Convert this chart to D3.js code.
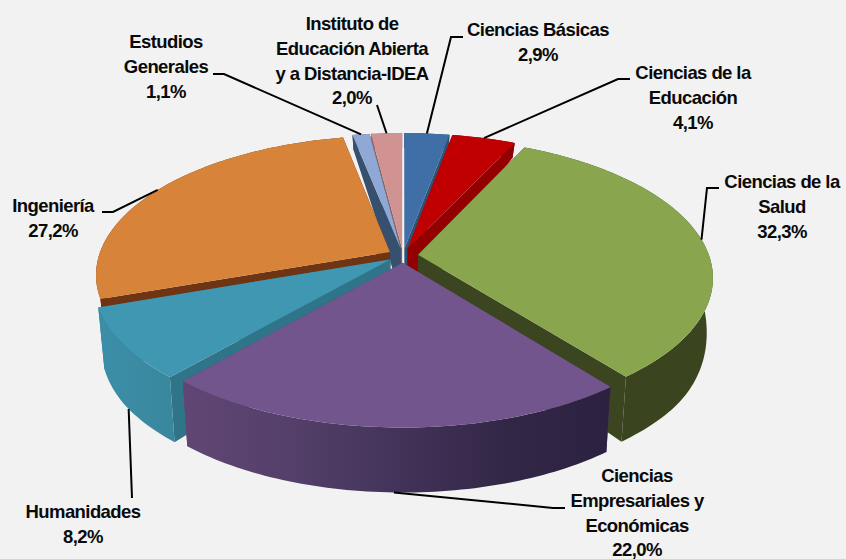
<!DOCTYPE html>
<html><head><meta charset="utf-8">
<script src="https://cdn.jsdelivr.net/npm/d3@7/dist/d3.min.js"></script>
<style>html,body{margin:0;padding:0;background:#f2f2f2}svg{display:block}
text{font-family:"Liberation Sans",Arial,sans-serif;font-weight:700;font-size:18.5px;letter-spacing:-.58px;fill:#0a0a0a;text-anchor:middle}</style>
</head><body><svg id="c" width="846" height="559"></svg>
<script>
// --- data
const categories = ["Ciencias Básicas","Ciencias de la Educación","Ciencias de la Salud","Ciencias Empresariales y Económicas","Humanidades","Ingeniería","Estudios Generales","Instituto de Educación Abierta y a Distancia-IDEA"];
const values = [2.9,4.1,32.3,22.0,8.2,27.2,1.1,2.0];
const labelTexts = ["2,9%","4,1%","32,3%","22,0%","8,2%","27,2%","1,1%","2,0%"];
const labelLines = [["Ciencias Básicas"],["Ciencias de la","Educación"],["Ciencias de la","Salud"],["Ciencias","Empresariales y","Económicas"],["Humanidades"],["Ingeniería"],["Estudios","Generales"],["Instituto de","Educación Abierta","y a Distancia-IDEA"]];
// --- style & layout
const topColors  = ["#3f6fa6","#c00000","#89a54e","#72558c","#3f97b2","#d8833a","#8fa8d5","#d19391"];
const wallColors = ["#2f5277","#8f0000","#3a4520","#4a3660","#3a8ca3","#6e3413","#36506e","#8d5f5e"];
const edgeColors = ["#2f5277","#940000","#3b4520","#5f4372","#2f7488","#6e3413","#36506e","#8d5f5e"];
const drawOrder = [7,6,0,1,5,2,4,3];
const labelX = [538,693,782,637,83,53,166,352];
const labelY0 = [36,79,188,482,518,212,48,30];
const lineStep = 24.8;
const leaderVia = [[[451,37],[463,37]],[[618,79],[630,79]],[[707,188],[719,188]],[[553,508],[565,508]],[[132,498]],[[113,212],[102,212]],[[224,74],[213,74]],[[377,105]]];
const leaderOnBottom = [false,false,false,true,true,false,false,false];
const cx=403, cy=255.5, A=291, B=136, persp=0.16, explode=0.052;

const svg=d3.select("#c");
const arcs=d3.pie().value(d=>d).sort(null).startAngle(0).endAngle(2*Math.PI)(values);

const depth=d3.scaleLinear().domain([-0.6,0.9]).range([1,0]).clamp(true);
const wallH=Z=>{const t=depth(Z);return 15+50*t*t*(3-2*t);};
const topPt=(X,Z)=>{const k=1+persp*Z;return [cx+A*X/k,cy-B*Z/k];};
const botPt=(X,Z)=>{const k=1+persp*Z;return [cx+0.98*A*X/k,cy-B*Z/k+wallH(Z)];};
const line=d3.line();

const defs=svg.append("defs");
const purpleGrad=defs.append("linearGradient").attr("id","gPurple");
[[0,"#614674"],[0.25,"#54406a"],[0.5,"#43335a"],[0.75,"#332746"],[1,"#2c2140"]].forEach(s=>purpleGrad.append("stop").attr("offset",s[0]).attr("stop-color",s[1]));
const tealGrad=defs.append("linearGradient").attr("id","gTeal");
[[0,"#3c8ea8"],[1,"#39879d"]].forEach(s=>tealGrad.append("stop").attr("offset",s[0]).attr("stop-color",s[1]));

function rim(d,t){const m=(d.startAngle+d.endAngle)/2;
  return [explode*Math.sin(m)+Math.sin(t),explode*Math.cos(m)+Math.cos(t)];}
function apex(d){const m=(d.startAngle+d.endAngle)/2;return [explode*Math.sin(m),explode*Math.cos(m)];}
function rimPts(d){const n=Math.max(6,Math.ceil((d.endAngle-d.startAngle)/0.02));
  return d3.range(n+1).map(i=>rim(d,d.startAngle+(d.endAngle-d.startAngle)*i/n));}

drawOrder.forEach(i=>{
  const d=arcs[i], g=svg.append("g"), a=apex(d), pts=rimPts(d);
  const first=pts[0], last=pts[pts.length-1];
  const edge=[[a,first],[a,last]];
  edge.forEach(e=>{
    const q=[topPt(...e[0]),topPt(...e[1]),botPt(...e[1]),botPt(...e[0])];
    g.append("path").attr("d",line(q)+"Z").attr("fill",edgeColors[i]);
  });
  const wall=pts.map(p=>topPt(...p)).concat(pts.slice().reverse().map(p=>botPt(...p)));
  const fill=i===3?"url(#gPurple)":i===4?"url(#gTeal)":wallColors[i];
  g.append("path").attr("d",line(wall)+"Z").attr("fill",fill);
  const top=[topPt(...a)].concat(pts.map(p=>topPt(...p)));
  g.append("path").attr("d",line(top)+"Z").attr("fill",topColors[i]);
});

// leaders
arcs.forEach((d,i)=>{
  const m=(d.startAngle+d.endAngle)/2, p=rim(d,m);
  const start=leaderOnBottom[i]?botPt(...p):topPt(...p);
  svg.append("path").attr("d",line([start].concat(leaderVia[i]))).attr("fill","none").attr("stroke","#000").attr("stroke-width",2);
});

// labels
categories.forEach((c,i)=>{
  const t=svg.append("text").attr("aria-label",c);
  labelLines[i].concat([labelTexts[i]]).forEach((s,j)=>{
    t.append("tspan").attr("x",labelX[i]).attr("y",labelY0[i]+j*lineStep).text(s);
  });
});
</script></body></html>
